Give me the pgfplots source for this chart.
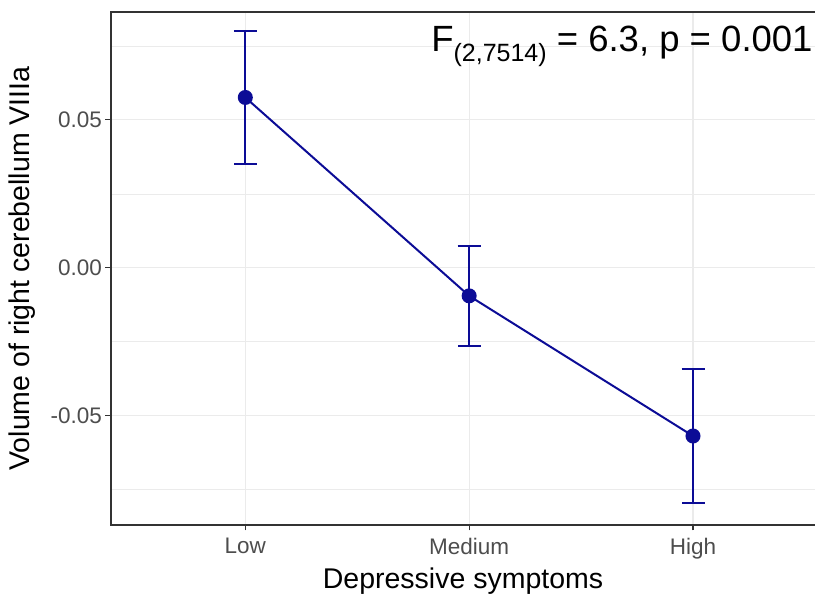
\documentclass[border=0pt]{standalone}
\usepackage{fontspec}
\setmainfont{Liberation Sans}
\usepackage{pgfplots}
\pgfplotsset{compat=1.18}
\definecolor{linecol}{RGB}{12,12,150}
\definecolor{gridcol}{RGB}{235,235,235}
\definecolor{framecol}{RGB}{51,51,51}
\definecolor{tickcol}{RGB}{77,77,77}

\begin{document}
\begin{tikzpicture}
\begin{axis}[
  at={(0,0)}, anchor=south west,
  scale only axis, width=704pt, height=513pt,
  xmin=0.4, xmax=3.545, ymin=-0.0870, ymax=0.0865,
  xtick={1,2,3}, xticklabels={Low,Medium,High},
  ytick={-0.05,0,0.05}, yticklabels={-0.05,0.00,0.05},
  minor ytick={-0.075,-0.025,0.025,0.075},
  grid=both,
  major grid style={gridcol, line width=1.1pt},
  minor grid style={gridcol, line width=0.55pt},
  axis line style={draw=none},
  tick align=outside, xtick pos=bottom, ytick pos=left,
  major tick length=5.5pt, minor tick length=0pt,
  tick style={framecol, line width=1.1pt},
  ticklabel style={tickcol, font=\fontsize{22.5}{25}\selectfont},
  xticklabel style={yshift=-4pt},
  /pgf/number format/assume math mode=true,
  xlabel={Depressive symptoms},
  ylabel={Volume of right cerebellum VIIIa},
  label style={font=\fontsize{28.5}{32}\selectfont, black},
  xlabel style={yshift=-2pt},
  ylabel style={yshift=8pt},
  clip=false,
]
% panel frame: top, left and bottom edges
\draw[framecol, line width=1.1pt] (rel axis cs:1,1) -- (rel axis cs:0,1) -- (rel axis cs:0,0) -- (rel axis cs:1,0);

% group means with 95% confidence intervals
\addplot[color=linecol, line width=2pt, mark=*, mark size=6.5pt,
  mark options={fill=linecol, draw=linecol},
  error bars/.cd, y dir=both, y explicit,
  error bar style={line width=2pt, draw=linecol},
  error mark options={rotate=90, mark size=11.5pt, line width=2pt, draw=linecol}]
  table[x=x, y=y, y error plus=e, y error minus=e] {
  x  y        e
  1  0.0576   0.0224
  2  -0.0095  0.0168
  3  -0.0569  0.0226
};

\node[anchor=base east, font=\fontsize{36.5}{40}\selectfont, inner sep=0pt]
  at (axis cs:3.535,0.0732)
  {F\raisebox{-0.28em}{\fontsize{25}{28}\selectfont(2,7514)} = 6.3, p = 0.001};
\end{axis}
\pgfresetboundingbox
\path (-111pt,-72pt) rectangle (704pt,525pt);
\end{tikzpicture}
\end{document}
